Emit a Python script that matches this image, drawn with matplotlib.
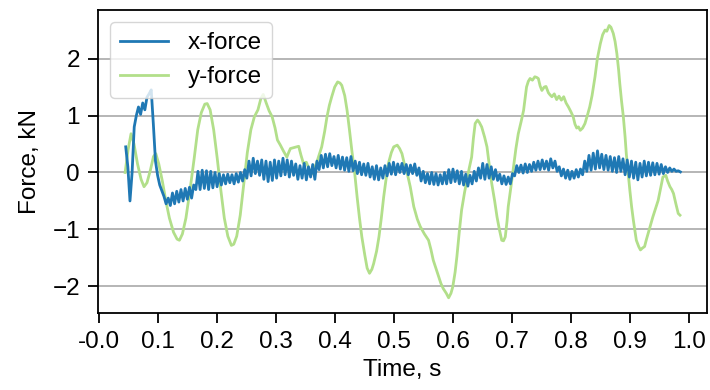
import numpy as np
import matplotlib
matplotlib.use("Agg")
import matplotlib.pyplot as plt

plt.rcParams['font.family'] = ['Liberation Sans', 'DejaVu Sans']

# x-force: sampled every 3.6 ms starting at t = 0.046 s (kN)
x_t0 = 0.046
x_dt = 0.0036
x_force = [
    0.45, 0.10, -0.50, 0.00, 0.80, 1.00, 1.15, 1.02, 1.22, 1.10,
    1.32, 1.38, 1.45, 0.85, 0.20, -0.05, -0.22, -0.32, -0.42, -0.55,
    -0.45, -0.58, -0.36, -0.55, -0.33, -0.52, -0.30, -0.50, -0.28, -0.47,
    -0.26, -0.45, -0.22, -0.30, 0.02, -0.30, 0.04, -0.28, 0.03, -0.30,
    0.02, -0.27, 0.00, -0.25, -0.02, -0.22, -0.04, -0.20, -0.03, -0.18,
    -0.04, -0.20, -0.02, -0.17, 0.00, -0.15, 0.05, -0.10, 0.20, -0.06,
    0.25, -0.02, 0.20, -0.05, 0.22, -0.12, 0.20, -0.16, 0.18, -0.14,
    0.22, -0.10, 0.20, -0.06, 0.25, -0.04, 0.22, -0.08, 0.20, -0.05,
    0.15, -0.12, 0.12, -0.10, 0.16, -0.13, 0.10, -0.08, 0.14, -0.12,
    0.20, 0.05, 0.30, 0.08, 0.32, 0.10, 0.33, 0.12, 0.28, 0.08,
    0.30, 0.06, 0.27, 0.04, 0.26, 0.02, 0.28, 0.03, 0.20, -0.02,
    0.18, -0.04, 0.15, -0.05, 0.16, -0.08, 0.10, -0.12, 0.12, -0.13,
    0.08, -0.10, 0.12, -0.06, 0.16, -0.03, 0.18, -0.04, 0.15, 0.00,
    0.16, -0.02, 0.14, -0.04, 0.13, -0.02, 0.15, -0.05, 0.08, -0.15,
    0.02, -0.18, -0.02, -0.20, 0.00, -0.21, -0.02, -0.22, -0.04, -0.20,
    0.00, -0.20, 0.05, -0.18, 0.06, -0.16, 0.03, -0.20, 0.02, -0.22,
    -0.03, -0.24, -0.05, -0.20, 0.02, -0.15, 0.08, -0.10, 0.16, -0.12,
    0.14, -0.10, 0.10, -0.12, 0.05, -0.14, -0.03, -0.20, -0.06, -0.21,
    -0.08, -0.20, -0.02, -0.06, 0.12, 0.00, 0.13, -0.01, 0.15, 0.00,
    0.14, 0.02, 0.18, 0.04, 0.20, 0.05, 0.22, 0.06, 0.20, 0.04,
    0.24, 0.08, 0.20, 0.02, 0.10, -0.06, 0.06, -0.10, 0.04, -0.12,
    0.02, -0.10, 0.05, -0.08, 0.06, -0.04, 0.20, 0.02, 0.30, 0.04,
    0.34, 0.06, 0.38, 0.08, 0.32, 0.05, 0.30, 0.04, 0.28, 0.02,
    0.26, 0.00, 0.28, 0.02, 0.24, -0.04, 0.22, -0.08, 0.20, -0.10,
    0.18, -0.13, 0.16, -0.08, 0.20, -0.06, 0.18, -0.05, 0.17, -0.04,
    0.16, -0.03, 0.14, -0.02, 0.10, 0.00, 0.08, 0.02, 0.06, 0.02,
    0.03, 0.01,
]
x_time = x_t0 + x_dt * np.arange(len(x_force))

# y-force samples (s, kN)
y_time = [
    0.045, 0.050, 0.055, 0.060, 0.066, 0.072, 0.077, 0.082, 0.088, 0.093,
    0.097, 0.102, 0.108, 0.114, 0.120, 0.127, 0.133, 0.137, 0.142, 0.148,
    0.155, 0.162, 0.168, 0.174, 0.180, 0.184, 0.189, 0.195, 0.201, 0.207,
    0.213, 0.219, 0.225, 0.229, 0.234, 0.240, 0.246, 0.252, 0.258, 0.264,
    0.270, 0.275, 0.279, 0.284, 0.289, 0.294, 0.299, 0.303, 0.308, 0.313,
    0.319, 0.322, 0.325, 0.332, 0.339, 0.343, 0.347, 0.352, 0.357, 0.362,
    0.366, 0.370, 0.374, 0.378, 0.383, 0.387, 0.391, 0.395, 0.400, 0.405,
    0.409, 0.412, 0.417, 0.421, 0.425, 0.429, 0.434, 0.438, 0.442, 0.446,
    0.451, 0.455, 0.459, 0.463, 0.466, 0.471, 0.475, 0.479, 0.483, 0.487,
    0.491, 0.496, 0.500, 0.506, 0.510, 0.514, 0.518, 0.523, 0.528, 0.534,
    0.540, 0.545, 0.552, 0.559, 0.563, 0.567, 0.572, 0.576, 0.580, 0.584,
    0.589, 0.593, 0.597, 0.600, 0.604, 0.607, 0.611, 0.615, 0.620, 0.624,
    0.628, 0.632, 0.635, 0.638, 0.642, 0.645, 0.649, 0.654, 0.658, 0.662,
    0.666, 0.671, 0.675, 0.679, 0.683, 0.686, 0.689, 0.692, 0.694, 0.699,
    0.703, 0.707, 0.711, 0.716, 0.720, 0.725, 0.728, 0.731, 0.735, 0.739,
    0.742, 0.745, 0.748, 0.751, 0.755, 0.758, 0.762, 0.765, 0.768, 0.772,
    0.776, 0.780, 0.784, 0.788, 0.792, 0.796, 0.800, 0.804, 0.807, 0.810,
    0.813, 0.816, 0.820, 0.824, 0.828, 0.832, 0.836, 0.841, 0.845, 0.850,
    0.854, 0.858, 0.861, 0.865, 0.868, 0.872, 0.875, 0.878, 0.881, 0.883,
    0.886, 0.889, 0.892, 0.894, 0.897, 0.900, 0.903, 0.906, 0.909, 0.911,
    0.915, 0.918, 0.921, 0.925, 0.928, 0.931, 0.935, 0.939, 0.944, 0.948,
    0.952, 0.956, 0.961, 0.964, 0.968, 0.971, 0.974, 0.978, 0.982, 0.985,
]
y_force = [
    0.00, 0.40, 0.68, 0.50, 0.15, -0.12, -0.25, -0.18, 0.05, 0.28,
    0.33, 0.15, -0.15, -0.50, -0.80, -1.05, -1.17, -1.19, -1.08, -0.80,
    -0.30, 0.25, 0.75, 1.05, 1.20, 1.21, 1.10, 0.75, 0.25, -0.30,
    -0.80, -1.12, -1.28, -1.26, -1.12, -0.75, -0.20, 0.35, 0.75, 0.98,
    1.10, 1.30, 1.37, 1.22, 1.08, 0.98, 0.78, 0.57, 0.48, 0.38,
    0.27, 0.35, 0.42, 0.44, 0.46, 0.30, 0.16, 0.18, 0.05, -0.02,
    0.08, 0.19, 0.32, 0.45, 0.72, 0.98, 1.18, 1.33, 1.50, 1.59,
    1.57, 1.53, 1.35, 1.09, 0.75, 0.39, -0.02, -0.43, -0.80, -1.13,
    -1.45, -1.68, -1.77, -1.70, -1.60, -1.38, -1.13, -0.80, -0.43, -0.12,
    0.16, 0.35, 0.45, 0.48, 0.42, 0.33, 0.15, -0.02, -0.25, -0.60,
    -0.82, -0.95, -1.08, -1.19, -1.35, -1.54, -1.70, -1.83, -1.95, -2.04,
    -2.12, -2.20, -2.12, -2.01, -1.75, -1.48, -1.05, -0.66, -0.35, -0.13,
    0.08, 0.27, 0.60, 0.86, 0.92, 0.88, 0.80, 0.62, 0.45, 0.12,
    -0.19, -0.50, -0.78, -1.00, -1.19, -1.20, -1.13, -0.85, -0.60, -0.22,
    0.10, 0.42, 0.68, 0.90, 1.09, 1.50, 1.60, 1.65, 1.62, 1.68,
    1.67, 1.65, 1.52, 1.44, 1.50, 1.51, 1.40, 1.36, 1.33, 1.38,
    1.28, 1.34, 1.27, 1.33, 1.22, 1.15, 1.07, 0.98, 0.85, 0.78,
    0.80, 0.74, 0.78, 0.86, 1.00, 1.15, 1.35, 1.68, 2.00, 2.26,
    2.42, 2.50, 2.48, 2.58, 2.55, 2.44, 2.30, 2.09, 1.80, 1.56,
    1.25, 0.98, 0.62, 0.33, 0.00, -0.31, -0.60, -0.84, -1.05, -1.19,
    -1.30, -1.36, -1.33, -1.30, -1.18, -1.07, -0.92, -0.78, -0.62, -0.49,
    -0.28, -0.08, -0.05, -0.15, -0.25, -0.30, -0.37, -0.55, -0.72, -0.75,
]

x_ticks = [0.0, 0.1, 0.2, 0.3, 0.4, 0.5, 0.6, 0.7, 0.8, 0.9, 1.0]
x_tick_labels = ['-0.0', '0.1', '0.2', '0.3', '0.4', '0.5',
                 '0.6', '0.7', '0.8', '0.9', '1.0']
y_ticks = [-2, -1, 0, 1, 2]

FS = 17.5

fig = plt.figure(figsize=(7.1, 3.9), dpi=100)
ax = fig.add_axes([0.138, 0.197, 0.858, 0.777])

ax.plot(x_time, x_force, color='#1f78b4', lw=2.0, label='x-force', zorder=3)
ax.plot(y_time, y_force, color='#b2df8a', lw=2.0, label='y-force', zorder=2)

ax.set_xlim(-0.001, 1.031)
ax.set_ylim(-2.47, 2.85)
ax.set_xticks(x_ticks)
ax.set_xticklabels(x_tick_labels)
ax.set_yticks(y_ticks)

ax.yaxis.grid(True, color='#b0b0b0', lw=1.3)
ax.set_axisbelow(True)

for s in ax.spines.values():
    s.set_linewidth(1.3)
    s.set_color('black')

ax.tick_params(axis='both', labelsize=FS, length=7, width=1.3, pad=6)
ax.set_xlabel('Time, s', fontsize=FS, labelpad=4)
ax.set_ylabel('Force, kN', fontsize=FS, labelpad=8)

ax.legend(loc='upper left', fontsize=FS, framealpha=0.8,
          handlelength=2.0, handletextpad=0.8)

fig.savefig('out.png', dpi=100)
